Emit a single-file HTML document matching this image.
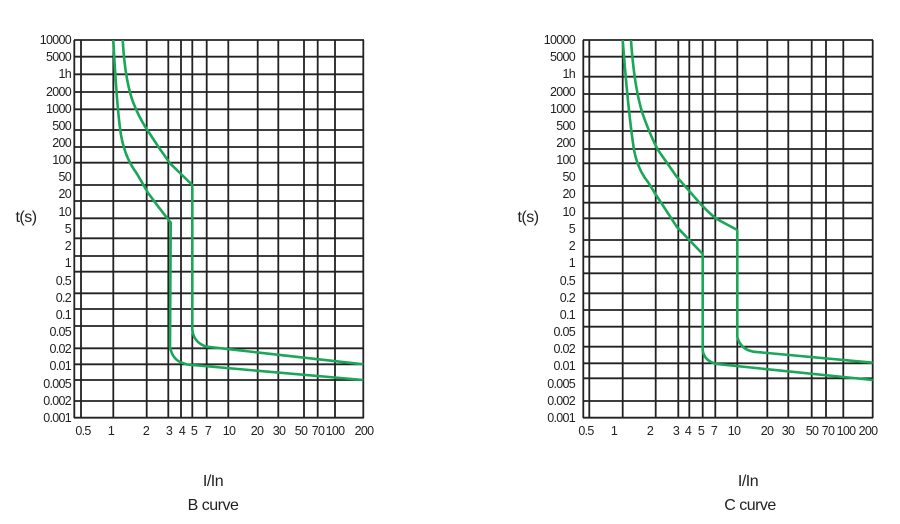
<!DOCTYPE html>
<html><head><meta charset="utf-8"><style>
html,body{margin:0;padding:0;background:#fff;width:900px;height:524px;overflow:hidden}
svg{display:block}
text{font-family:"Liberation Sans",sans-serif;fill:#222}
.yl{font-size:12.5px;text-anchor:end;letter-spacing:-0.7px}
.xl{font-size:12.5px;text-anchor:middle;letter-spacing:-0.7px}
.big{font-size:16px;text-anchor:middle;letter-spacing:-0.5px}
.g{fill:none;stroke:#1aa758;stroke-width:2.6;stroke-linejoin:round}
.grid line{stroke:#222;stroke-width:1.8}
</style></head><body>
<svg width="900" height="524" viewBox="0 0 900 524">
<g class="grid">
<line x1="74.3" y1="40" x2="74.3" y2="418"/><line x1="81" y1="40" x2="81" y2="418"/><line x1="113.3" y1="40" x2="113.3" y2="418"/><line x1="146.7" y1="40" x2="146.7" y2="418"/><line x1="168.3" y1="40" x2="168.3" y2="418"/><line x1="181" y1="40" x2="181" y2="418"/><line x1="192.3" y1="40" x2="192.3" y2="418"/><line x1="206.7" y1="40" x2="206.7" y2="418"/><line x1="228.3" y1="40" x2="228.3" y2="418"/><line x1="257.7" y1="40" x2="257.7" y2="418"/><line x1="278.3" y1="40" x2="278.3" y2="418"/><line x1="304" y1="40" x2="304" y2="418"/><line x1="317.7" y1="40" x2="317.7" y2="418"/><line x1="335" y1="40" x2="335" y2="418"/><line x1="363.3" y1="40" x2="363.3" y2="418"/>
<line x1="74" y1="40" x2="364" y2="40"/><line x1="74" y1="56.7" x2="364" y2="56.7"/><line x1="74" y1="74.3" x2="364" y2="74.3"/><line x1="74" y1="92" x2="364" y2="92"/><line x1="74" y1="109.3" x2="364" y2="109.3"/><line x1="74" y1="130" x2="364" y2="130"/><line x1="74" y1="147" x2="364" y2="147"/><line x1="74" y1="162.7" x2="364" y2="162.7"/><line x1="74" y1="185" x2="364" y2="185"/><line x1="74" y1="201" x2="364" y2="201"/><line x1="74" y1="218.3" x2="364" y2="218.3"/><line x1="74" y1="238.3" x2="364" y2="238.3"/><line x1="74" y1="256" x2="364" y2="256"/><line x1="74" y1="271.7" x2="364" y2="271.7"/><line x1="74" y1="293.3" x2="364" y2="293.3"/><line x1="74" y1="309" x2="364" y2="309"/><line x1="74" y1="326" x2="364" y2="326"/><line x1="74" y1="348.3" x2="364" y2="348.3"/><line x1="74" y1="364.3" x2="364" y2="364.3"/><line x1="74" y1="380" x2="364" y2="380"/><line x1="74" y1="401" x2="364" y2="401"/><line x1="74" y1="417.7" x2="364" y2="417.7"/>
<line x1="583.3" y1="40" x2="583.3" y2="418"/><line x1="589.3" y1="40" x2="589.3" y2="418"/><line x1="622.7" y1="40" x2="622.7" y2="418"/><line x1="655.7" y1="40" x2="655.7" y2="418"/><line x1="678.3" y1="40" x2="678.3" y2="418"/><line x1="689.3" y1="40" x2="689.3" y2="418"/><line x1="702.7" y1="40" x2="702.7" y2="418"/><line x1="715.3" y1="40" x2="715.3" y2="418"/><line x1="737.3" y1="40" x2="737.3" y2="418"/><line x1="767.3" y1="40" x2="767.3" y2="418"/><line x1="788.3" y1="40" x2="788.3" y2="418"/><line x1="811.7" y1="40" x2="811.7" y2="418"/><line x1="826" y1="40" x2="826" y2="418"/><line x1="843.3" y1="40" x2="843.3" y2="418"/><line x1="872.7" y1="40" x2="872.7" y2="418"/>
<line x1="583" y1="40" x2="873" y2="40"/><line x1="583" y1="56.7" x2="873" y2="56.7"/><line x1="583" y1="76.7" x2="873" y2="76.7"/><line x1="583" y1="94" x2="873" y2="94"/><line x1="583" y1="111.7" x2="873" y2="111.7"/><line x1="583" y1="131" x2="873" y2="131"/><line x1="583" y1="149" x2="873" y2="149"/><line x1="583" y1="163.3" x2="873" y2="163.3"/><line x1="583" y1="186" x2="873" y2="186"/><line x1="583" y1="202.7" x2="873" y2="202.7"/><line x1="583" y1="218.3" x2="873" y2="218.3"/><line x1="583" y1="240" x2="873" y2="240"/><line x1="583" y1="256.7" x2="873" y2="256.7"/><line x1="583" y1="273.3" x2="873" y2="273.3"/><line x1="583" y1="293.3" x2="873" y2="293.3"/><line x1="583" y1="310" x2="873" y2="310"/><line x1="583" y1="326.7" x2="873" y2="326.7"/><line x1="583" y1="346.7" x2="873" y2="346.7"/><line x1="583" y1="363.3" x2="873" y2="363.3"/><line x1="583" y1="378.3" x2="873" y2="378.3"/><line x1="583" y1="401" x2="873" y2="401"/><line x1="583" y1="417.7" x2="873" y2="417.7"/>
</g>
<path class="g" d="M113.3,40 Q117,110 121,135 Q125,158 136.7,173.3 L148.3,193.3 L158.3,206.7 L170.7,222.7 L170,346.7 Q172,358 180,362 L186.7,364.5 L363.3,380"/>
<path class="g" d="M122.7,40 Q125,80 133,102 Q140,120 150,134 L158.3,146.7 L170,163.3 L192.3,185 L192.3,330 Q194,343 206.7,346.7 L363.3,364.3"/>
<path class="g" d="M622.7,40 Q628,110 634,150 Q638,170 648,182 L655,193.3 L676.7,226.7 L689.3,240 L702.7,254 L702.7,350 Q704,361 716.7,364 L872.7,380"/>
<path class="g" d="M631,40 Q634,85 642,112 Q650,135 658,150 L676.7,176.7 L700,203.3 Q710,214 716.7,219 L737.3,230 L737.3,336.7 Q740,349 753.3,351.7 L872.7,362.7"/>
<g class="yl">
<text x="71" y="44">10000</text><text x="71" y="61">5000</text><text x="71" y="78">1h</text><text x="71" y="96">2000</text><text x="71" y="113">1000</text><text x="71" y="130">500</text><text x="71" y="147">200</text><text x="71" y="164">100</text><text x="71" y="181">50</text><text x="71" y="198">20</text><text x="71" y="216">10</text><text x="71" y="233">5</text><text x="71" y="250">2</text><text x="71" y="267">1</text><text x="71" y="285">0.5</text><text x="71" y="302">0.2</text><text x="71" y="319">0.1</text><text x="71" y="336">0.05</text><text x="71" y="353">0.02</text><text x="71" y="370">0.01</text><text x="71" y="388">0.005</text><text x="71" y="405">0.002</text><text x="71" y="422">0.001</text>
</g>
<g class="yl">
<text x="575" y="44">10000</text><text x="575" y="61">5000</text><text x="575" y="78">1h</text><text x="575" y="96">2000</text><text x="575" y="113">1000</text><text x="575" y="130">500</text><text x="575" y="147">200</text><text x="575" y="164">100</text><text x="575" y="181">50</text><text x="575" y="198">20</text><text x="575" y="216">10</text><text x="575" y="233">5</text><text x="575" y="250">2</text><text x="575" y="267">1</text><text x="575" y="285">0.5</text><text x="575" y="302">0.2</text><text x="575" y="319">0.1</text><text x="575" y="336">0.05</text><text x="575" y="353">0.02</text><text x="575" y="370">0.01</text><text x="575" y="388">0.005</text><text x="575" y="405">0.002</text><text x="575" y="422">0.001</text>
</g>
<g class="xl">
<text x="83" y="435">0.5</text><text x="111" y="435">1</text><text x="146" y="435">2</text><text x="169" y="435">3</text><text x="182" y="435">4</text><text x="194" y="435">5</text><text x="208" y="435">7</text><text x="229" y="435">10</text><text x="257" y="435">20</text><text x="279" y="435">30</text><text x="301" y="435">50</text><text x="318" y="435">70</text><text x="335" y="435">100</text><text x="364" y="435">200</text>
<text x="586" y="435">0.5</text><text x="614" y="435">1</text><text x="650" y="435">2</text><text x="676" y="435">3</text><text x="688" y="435">4</text><text x="701" y="435">5</text><text x="714" y="435">7</text><text x="734" y="435">10</text><text x="767" y="435">20</text><text x="788" y="435">30</text><text x="812" y="435">50</text><text x="828" y="435">70</text><text x="846" y="435">100</text><text x="868" y="435">200</text>
</g>
<text class="big" x="26" y="222">t(s)</text>
<text class="big" x="528" y="222">t(s)</text>
<text class="big" x="213" y="486">I/In</text>
<text class="big" x="213" y="510">B curve</text>
<text class="big" x="748" y="486">I/In</text>
<text class="big" x="750" y="510">C curve</text>
</svg>
</body></html>
